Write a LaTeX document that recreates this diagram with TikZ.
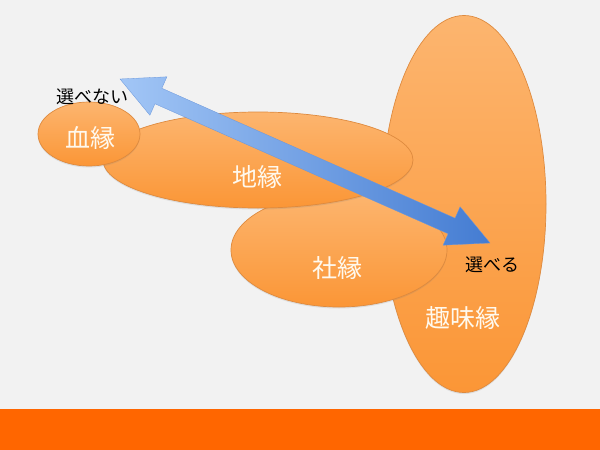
\documentclass[tikz,border=0pt]{standalone}
\usepackage{fontspec}
\newfontfamily\jp{Noto Sans CJK JP}
\usetikzlibrary{shapes.geometric,calc,shadows}
\definecolor{bg}{HTML}{F2F2F2}
\definecolor{bar}{HTML}{FF6600}
\definecolor{otop}{HTML}{FCB56F}
\definecolor{obot}{HTML}{FB9636}
\definecolor{oedge}{HTML}{DE8A3E}
\definecolor{alight}{HTML}{A2C6F6}
\definecolor{adark}{HTML}{447CD2}
\definecolor{wtxt}{HTML}{FFF9EE}
\tikzset{
  blob/.style={ellipse, inner sep=0pt, draw=oedge, line width=0.7pt,
    top color=otop, bottom color=obot,
    drop shadow={shadow xshift=0pt, shadow yshift=-1.5pt, opacity=0.18}},
  wlabel/.style={font=\jp\fontsize{25}{25}\selectfont, text=wtxt, inner sep=0pt},
  blabel/.style={font=\jp\fontsize{18}{18}\selectfont, text=black, inner sep=0pt},
}
\begin{document}
\begin{tikzpicture}[x=1pt,y=-1pt]
\useasboundingbox (0,0) rectangle (600,450);
\fill[bg] (0,0) rectangle (600,450);
\fill[bar] (0,409) rectangle (600,450);
% ellipses, back to front
\node[blob, minimum width=164pt, minimum height=377pt] (shumi) at (464,204) {};
\node[blob, minimum width=216pt, minimum height=114pt] (sha) at (339,250) {};
\node[blob, minimum width=310pt, minimum height=96pt] (chi) at (258,160) {};
\node[blob, minimum width=102pt, minimum height=64pt] (ketsu) at (89,134) {};
% labels
\node[wlabel] (lketsu) at (90,138) {血縁};
\node[wlabel] (lchi) at (257,177) {地縁};
\node[wlabel] (lsha) at (337,268) {社縁};
\node[wlabel] (lshumi) at (463,318) {趣味縁};
\node[blabel] (lno) at (92,97) {選べない};
\node[blabel] (lyes) at (492,265) {選べる};
% double arrow
\coordinate (A) at (120,79);
\coordinate (B) at (490,243);
\shade[left color=alight, right color=adark, draw=adark!80, line width=0.3pt]
  (A)
  -- ($(A)!42pt!(B)!21pt!90:(B)$)
  -- ($(A)!42pt!(B)!8.5pt!90:(B)$)
  -- ($(B)!42pt!(A)!8.5pt!-90:(A)$)
  -- ($(B)!42pt!(A)!21pt!-90:(A)$)
  -- (B)
  -- ($(B)!42pt!(A)!21pt!90:(A)$)
  -- ($(B)!42pt!(A)!8.5pt!90:(A)$)
  -- ($(A)!42pt!(B)!8.5pt!-90:(B)$)
  -- ($(A)!42pt!(B)!21pt!-90:(B)$)
  -- cycle;
\end{tikzpicture}
\end{document}
